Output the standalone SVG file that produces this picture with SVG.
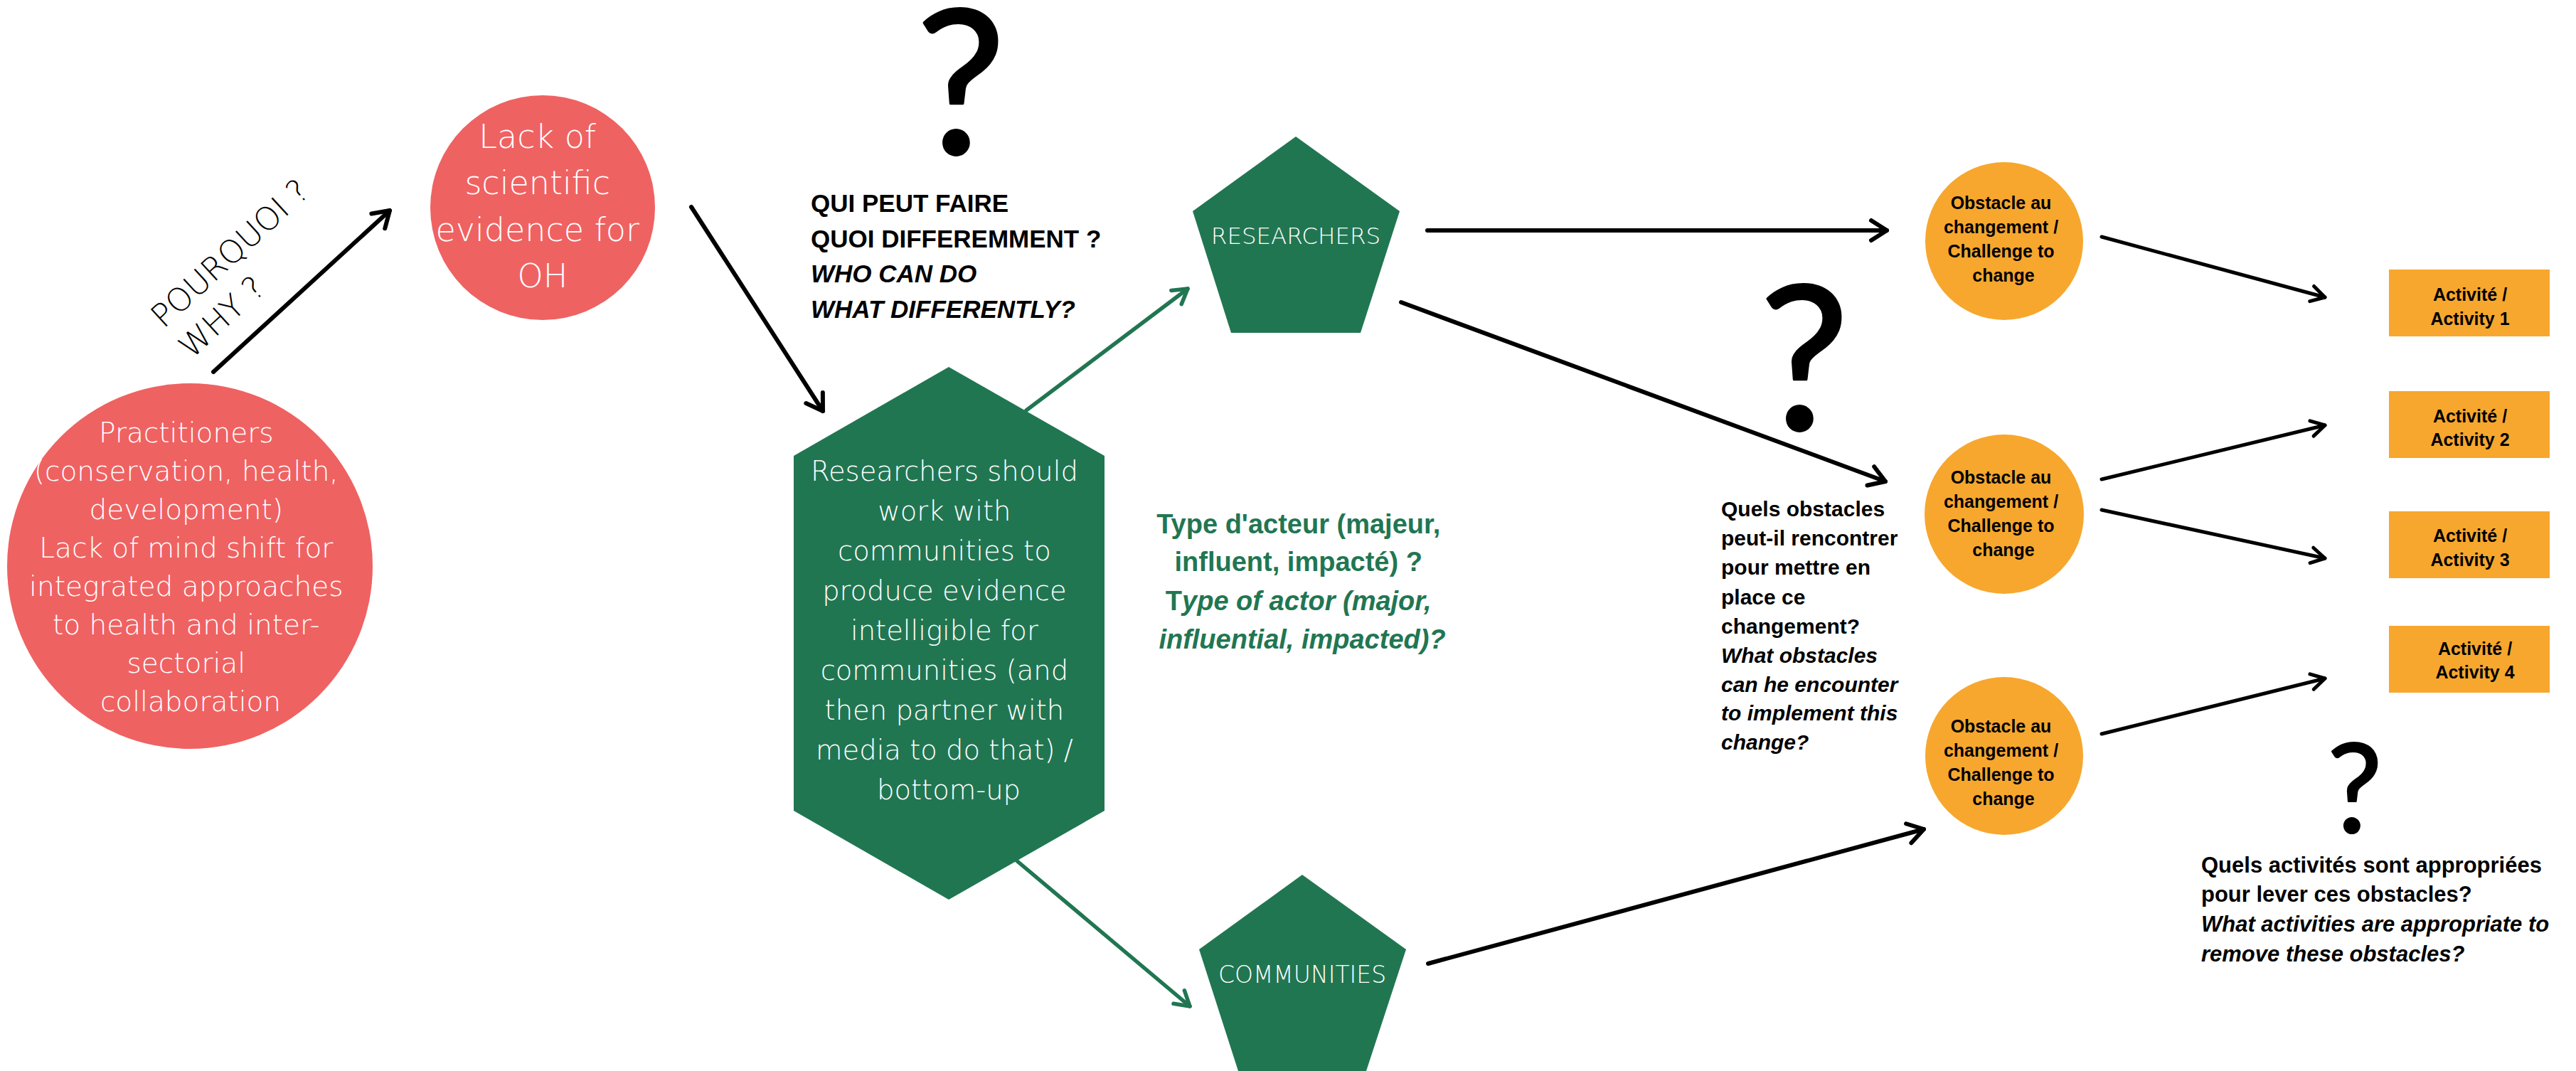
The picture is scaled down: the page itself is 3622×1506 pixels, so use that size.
<svg xmlns="http://www.w3.org/2000/svg" width="3622" height="1506" viewBox="0 0 3622 1506">
<defs>
<style>
.red{fill:#EF6262}
.grn{fill:#217652}
.org{fill:#F7A72E}
.cg{font-family:"DejaVu Sans","Liberation Sans",sans-serif;font-weight:200;fill:#fff;text-anchor:middle}
.ab{font-family:"Liberation Sans",Arial,sans-serif;font-weight:bold;fill:#000}
.abc{font-family:"Liberation Sans",Arial,sans-serif;font-weight:bold;fill:#000;text-anchor:middle}
.q{font-family:Lato,"DejaVu Sans",sans-serif;font-weight:400;fill:#000;stroke:#000;stroke-linejoin:round;text-anchor:middle}
.bl{stroke:#000;stroke-width:6;fill:none;stroke-linecap:round}
.bs{stroke:#000;stroke-width:5;fill:none;stroke-linecap:round}
.gl{stroke:#217652;stroke-width:5.5;fill:none;stroke-linecap:round}
</style>
<marker id="ah" markerUnits="userSpaceOnUse" viewBox="-30 -20 36 40" markerWidth="36" markerHeight="40" refX="0" refY="0" orient="auto">
<path d="M-22,-14 L0,0 L-22,14" fill="none" stroke="#000" stroke-width="6" stroke-linecap="round" stroke-linejoin="round"/>
</marker>
<marker id="ahs" markerUnits="userSpaceOnUse" viewBox="-30 -20 36 40" markerWidth="36" markerHeight="40" refX="0" refY="0" orient="auto">
<path d="M-19,-11 L0,0 L-19,11" fill="none" stroke="#000" stroke-width="5" stroke-linecap="round" stroke-linejoin="round"/>
</marker>
<marker id="ahg" markerUnits="userSpaceOnUse" viewBox="-30 -20 36 40" markerWidth="36" markerHeight="40" refX="0" refY="0" orient="auto">
<path d="M-20,-12 L0,0 L-20,12" fill="none" stroke="#217652" stroke-width="5.5" stroke-linecap="round" stroke-linejoin="round"/>
</marker>
</defs>
<rect width="3622" height="1506" fill="#fff"/>

<g id="connectors">
<line class="bl" x1="300" y1="523" x2="548" y2="296" marker-end="url(#ah)"/>
<line class="bl" x1="972" y1="291" x2="1157" y2="578" marker-end="url(#ah)"/>
<line class="gl" x1="1443" y1="577" x2="1670" y2="406" marker-end="url(#ahg)"/>
<line class="gl" x1="1428" y1="1209" x2="1673" y2="1415" marker-end="url(#ahg)"/>
<line class="bl" x1="2007" y1="324" x2="2653" y2="324" marker-end="url(#ah)"/>
<line class="bl" x1="1970" y1="425" x2="2651" y2="677" marker-end="url(#ah)"/>
<line class="bl" x1="2008" y1="1355" x2="2705" y2="1166" marker-end="url(#ah)"/>
<line class="bs" x1="2955" y1="333" x2="3269" y2="418" marker-end="url(#ahs)"/>
<line class="bs" x1="2955" y1="674" x2="3269" y2="598" marker-end="url(#ahs)"/>
<line class="bs" x1="2955" y1="717" x2="3269" y2="785" marker-end="url(#ahs)"/>
<line class="bs" x1="2955" y1="1032" x2="3269" y2="954" marker-end="url(#ahs)"/>
</g>

<g id="why-label" transform="translate(230,463) rotate(-42.6)">
<text x="0" y="0" font-family="DejaVu Sans,sans-serif" font-weight="200" font-size="45" fill="#000">POURQUOI ?</text>
<text x="0" y="58" font-family="DejaVu Sans,sans-serif" font-weight="200" font-size="45" fill="#000">WHY ?</text>
</g>

<g id="practitioners">
<circle class="red" cx="267" cy="796" r="257"/>
<text class="cg" font-size="39">
<tspan x="268" y="622">Practitioners</tspan>
<tspan x="268" y="676">(conservation, health,</tspan>
<tspan x="268" y="730">development)</tspan>
<tspan x="268" y="784">Lack of mind shift for</tspan>
<tspan x="268" y="838">integrated approaches</tspan>
<tspan x="268" y="892">to health and inter-</tspan>
<tspan x="268" y="946">sectorial</tspan>
<tspan x="268" y="1000">collaboration</tspan>
</text>
</g>

<g id="lack-evidence">
<circle class="red" cx="763" cy="292" r="158"/>
<text class="cg" font-size="46">
<tspan x="763" y="208">Lack of</tspan>
<tspan x="763" y="273">scientific</tspan>
<tspan x="763" y="339">evidence for</tspan>
<tspan x="763" y="404">OH</tspan>
</text>
</g>

<g id="q-who">
<text class="q" x="1351" y="216" font-size="282" stroke-width="3.5">?</text>
<text class="ab" font-size="35">
<tspan x="1140" y="298">QUI PEUT FAIRE</tspan>
<tspan x="1140" y="348">QUOI DIFFEREMMENT ?</tspan>
<tspan x="1140" y="397" font-style="italic">WHO CAN DO</tspan>
<tspan x="1140" y="447" font-style="italic">WHAT DIFFERENTLY?</tspan>
</text>
</g>

<g id="hexagon">
<polygon class="grn" points="1334,516 1553,641 1553,1140 1334,1265 1116,1140 1116,641"/>
<text class="cg" font-size="38.5">
<tspan x="1334" y="676">Researchers should</tspan>
<tspan x="1334" y="732">work with</tspan>
<tspan x="1334" y="788">communities to</tspan>
<tspan x="1334" y="844">produce evidence</tspan>
<tspan x="1334" y="900">intelligible for</tspan>
<tspan x="1334" y="956">communities (and</tspan>
<tspan x="1334" y="1012">then partner with</tspan>
<tspan x="1334" y="1068">media to do that) /</tspan>
<tspan x="1334" y="1124">bottom-up</tspan>
</text>
</g>

<g id="actor-type">
<text font-family="Liberation Sans,Arial,sans-serif" font-weight="bold" font-size="38" fill="#217652" text-anchor="middle">
<tspan x="1831" y="750">Type d'acteur (majeur,</tspan>
<tspan x="1831" y="803">influent, impacté) ?</tspan>
<tspan x="1831" y="858">T<tspan font-style="italic">ype of actor (major,</tspan></tspan>
<tspan x="1831" y="912" font-style="italic">influential, impacted)?</tspan>
</text>
</g>

<g id="researchers">
<polygon class="grn" points="1822,192 1968,297 1913,468 1731,468 1677,297"/>
<text class="cg" x="1822" y="343" font-size="32.5">RESEARCHERS</text>
</g>

<g id="communities">
<polygon class="grn" points="1831,1230 1977,1335 1921,1506 1741,1506 1686,1335"/>
<text class="cg" x="1831" y="1382" font-size="33">COMMUNITIES</text>
</g>

<g id="obstacle-1">
<circle class="org" cx="2818" cy="339" r="111"/>
<text class="abc" font-size="25">
<tspan x="2817" y="294">Obstacle au</tspan>
<tspan x="2817" y="328">changement /</tspan>
<tspan x="2817" y="362">Challenge to</tspan>
<tspan x="2817" y="396">change</tspan>
</text>
</g>

<g id="obstacle-2">
<circle class="org" cx="2818" cy="723" r="112"/>
<text class="abc" font-size="25">
<tspan x="2817" y="680">Obstacle au</tspan>
<tspan x="2817" y="714">changement /</tspan>
<tspan x="2817" y="748">Challenge to</tspan>
<tspan x="2817" y="782">change</tspan>
</text>
</g>

<g id="obstacle-3">
<circle class="org" cx="2818" cy="1063" r="111"/>
<text class="abc" font-size="25">
<tspan x="2817" y="1030">Obstacle au</tspan>
<tspan x="2817" y="1064">changement /</tspan>
<tspan x="2817" y="1098">Challenge to</tspan>
<tspan x="2817" y="1132">change</tspan>
</text>
</g>

<g id="q-obstacles">
<text class="q" x="2537" y="604" font-size="282" stroke-width="3.5">?</text>
<text class="ab" font-size="30">
<tspan x="2420" y="726">Quels obstacles</tspan>
<tspan x="2420" y="767">peut-il rencontrer</tspan>
<tspan x="2420" y="808">pour mettre en</tspan>
<tspan x="2420" y="850">place ce</tspan>
<tspan x="2420" y="891">changement?</tspan>
<tspan x="2420" y="932" font-style="italic">What obstacles</tspan>
<tspan x="2420" y="973" font-style="italic">can he encounter</tspan>
<tspan x="2420" y="1013" font-style="italic">to implement this</tspan>
<tspan x="2420" y="1054" font-style="italic">change?</tspan>
</text>
</g>

<g id="activity-1">
<rect class="org" x="3359" y="379" width="226" height="94"/>
<text class="abc" font-size="25"><tspan x="3473" y="423">Activité /</tspan><tspan x="3473" y="457">Activity 1</tspan></text>
</g>
<g id="activity-2">
<rect class="org" x="3359" y="550" width="226" height="94"/>
<text class="abc" font-size="25"><tspan x="3473" y="594">Activité /</tspan><tspan x="3473" y="627">Activity 2</tspan></text>
</g>
<g id="activity-3">
<rect class="org" x="3359" y="719" width="226" height="94"/>
<text class="abc" font-size="25"><tspan x="3473" y="762">Activité /</tspan><tspan x="3473" y="796">Activity 3</tspan></text>
</g>
<g id="activity-4">
<rect class="org" x="3359" y="880" width="226" height="94"/>
<text class="abc" font-size="25"><tspan x="3480" y="921">Activité /</tspan><tspan x="3480" y="954">Activity 4</tspan></text>
</g>

<g id="q-activities">
<text class="q" x="3311" y="1171" font-size="174" stroke-width="2.2">?</text>
<text class="ab" font-size="31">
<tspan x="3095" y="1227">Quels activités sont appropriées</tspan>
<tspan x="3095" y="1268">pour lever ces obstacles?</tspan>
<tspan x="3095" y="1310" font-style="italic">What activities are appropriate to</tspan>
<tspan x="3095" y="1352" font-style="italic">remove these obstacles?</tspan>
</text>
</g>
</svg>
